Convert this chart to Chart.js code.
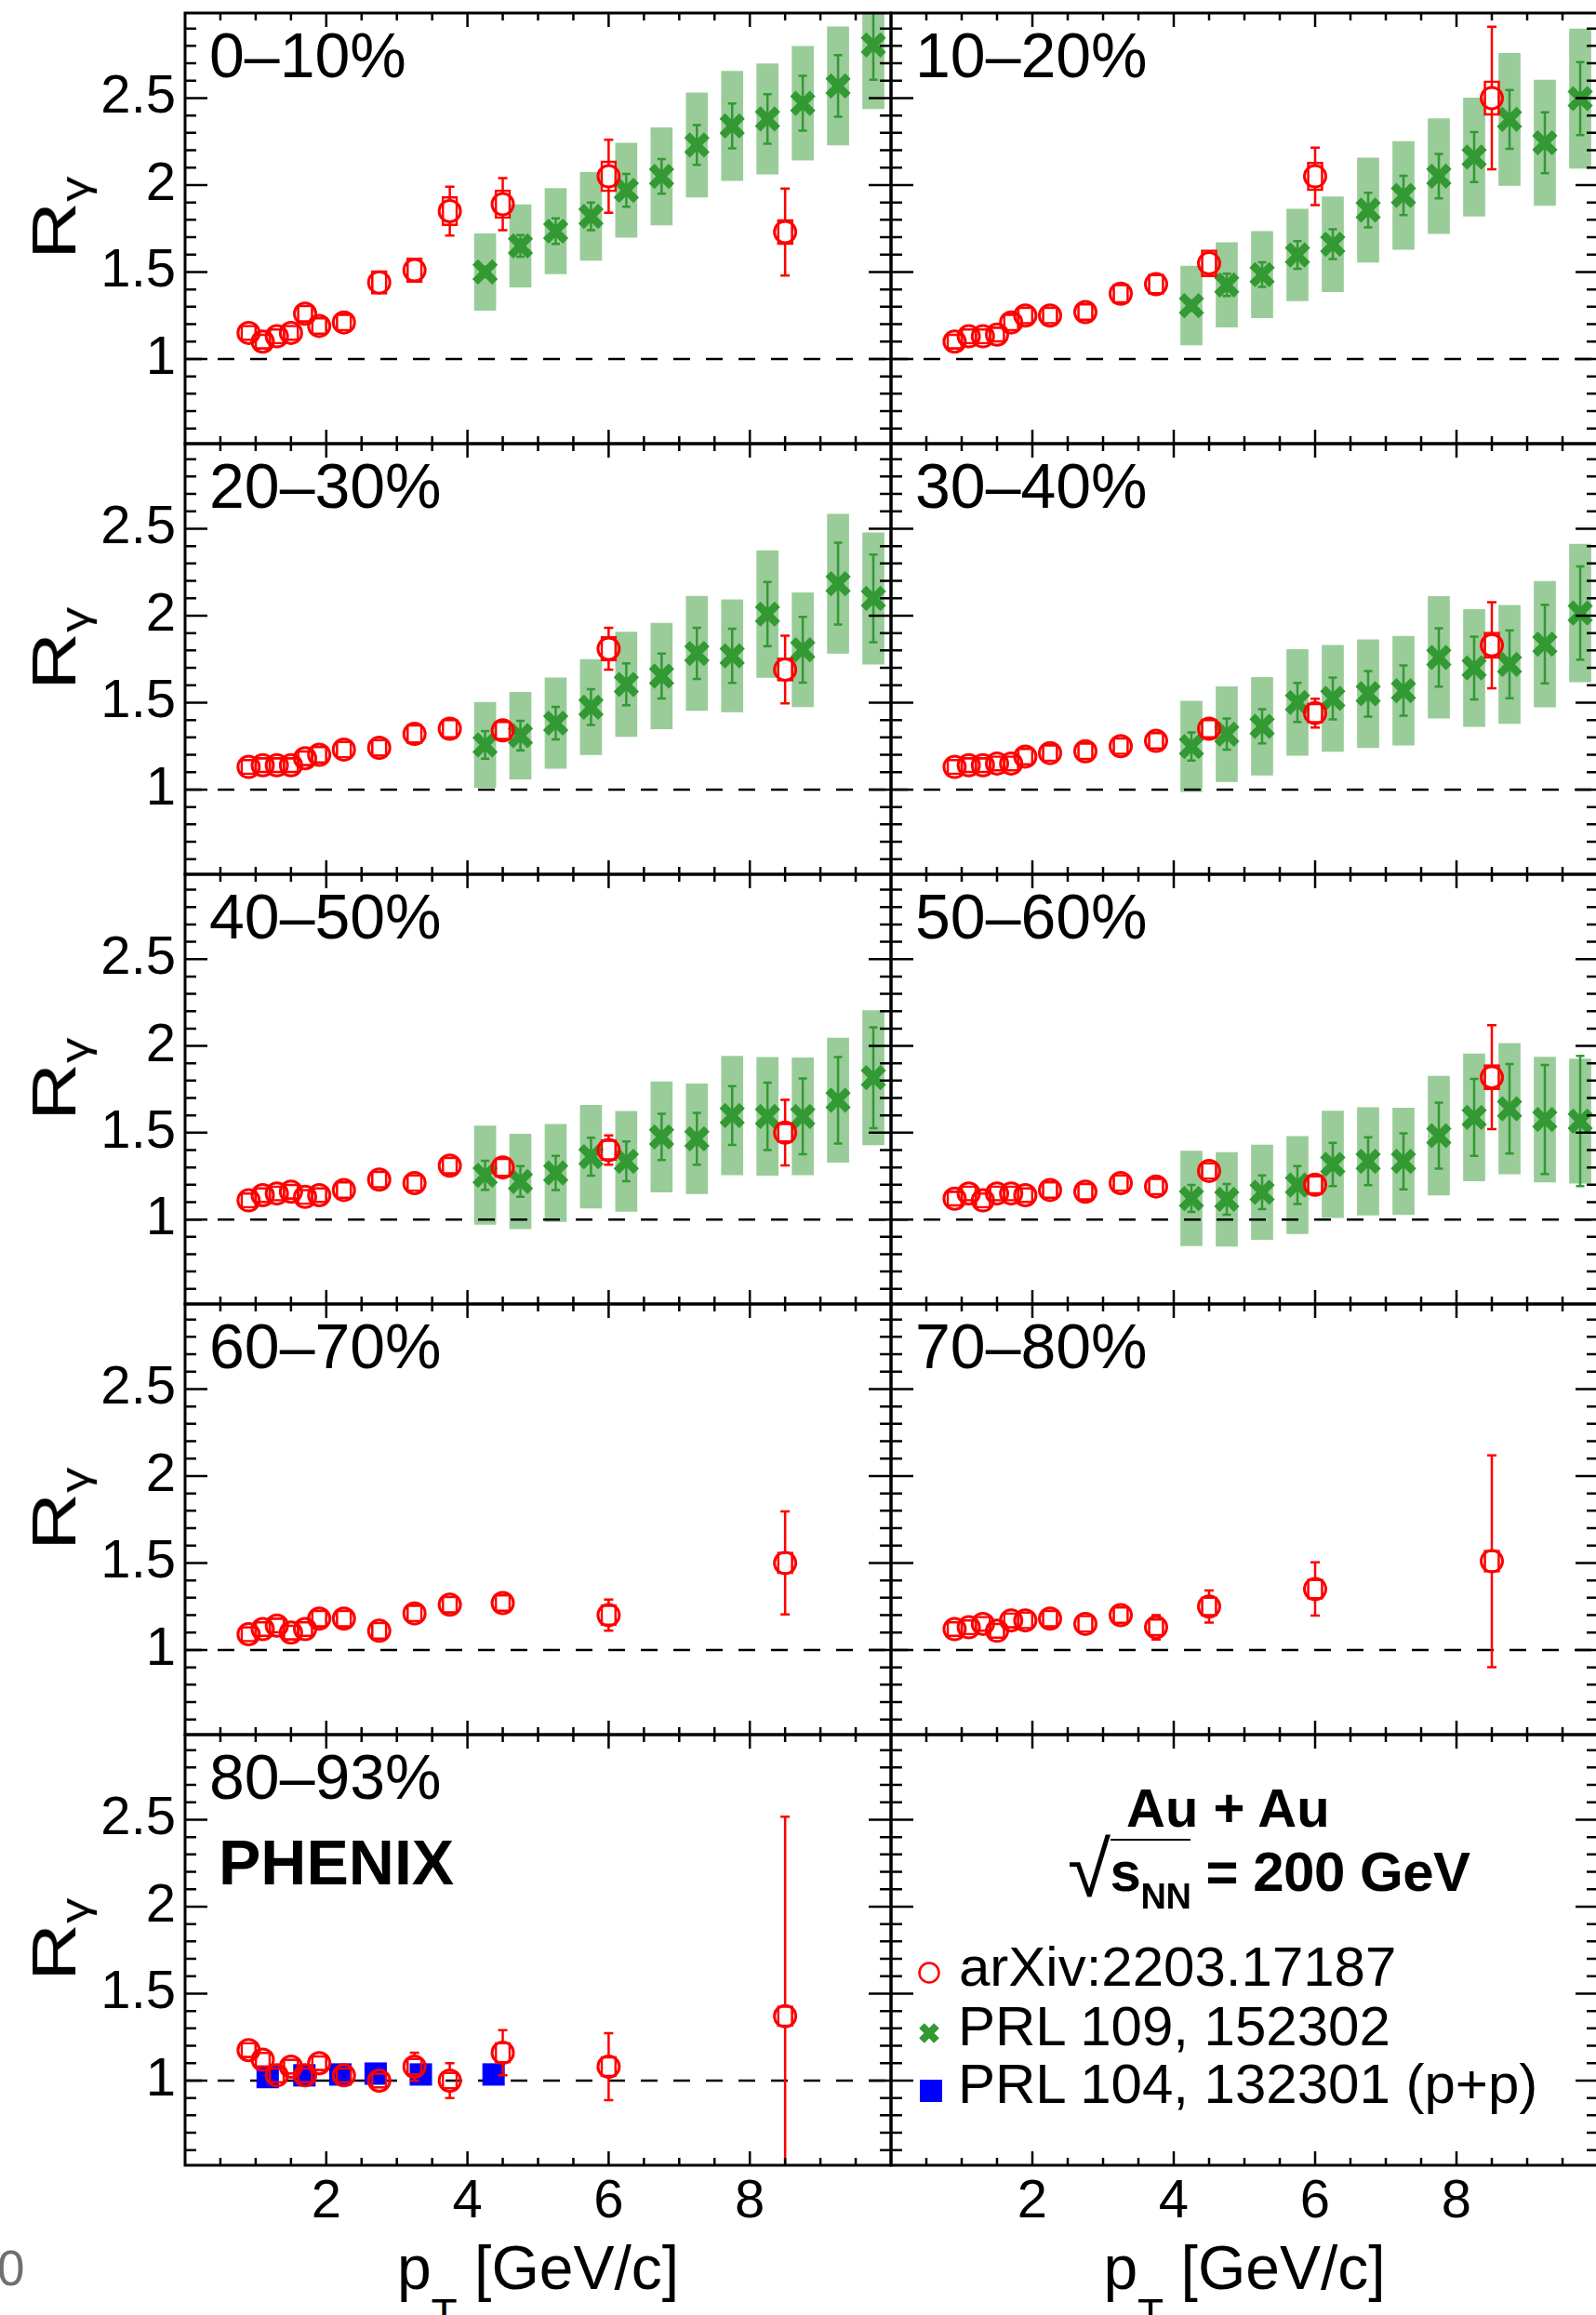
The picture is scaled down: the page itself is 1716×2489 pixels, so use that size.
<!DOCTYPE html>
<html><head><meta charset="utf-8">
<script src="https://cdn.jsdelivr.net/npm/chart.js@4.4.0/dist/chart.umd.min.js"></script>
<style>
html,body{margin:0;padding:0;background:#fff;overflow:hidden;width:1716px;height:2489px;position:relative}
.t{position:absolute;white-space:nowrap;font-family:'Liberation Sans',Arial,Helvetica,sans-serif;color:#000}
</style></head><body>
<script>
// ---------------- data ----------------
const centralities = ["0–10%", "10–20%", "20–30%", "30–40%", "40–50%", "50–60%", "60–70%", "70–80%", "80–93%"];
const ptRed   = [0.9, 1.1, 1.3, 1.5, 1.7, 1.9, 2.25, 2.75, 3.25, 3.75, 4.5, 6.0, 8.5];
const ptGreen = [4.25, 4.75, 5.25, 5.75, 6.25, 6.75, 7.25, 7.75, 8.25, 8.75, 9.25, 9.75];
const ptBlue  = [1.17, 1.69, 2.2, 2.7, 3.34, 4.37];

const yTickValues = [1, 1.5, 2, 2.5];
const yTickLabels = ["1", "1.5", "2", "2.5"];
const xTickValues = [2, 4, 6, 8];
const xTickLabels = ["2", "4", "6", "8"];

// arXiv:2203.17187 (red): value, stat, sys
const red_0_10     = [1.15, 1.10, 1.13, 1.15, 1.26, 1.19, 1.21, 1.44, 1.51, 1.85, 1.89, 2.05, 1.73];
const redStat_0_10 = [0.01, 0.01, 0.01, 0.01, 0.02, 0.02, 0.02, 0.03, 0.04, 0.14, 0.15, 0.21, 0.25];
const redSys_0_10  = [0.045, 0.045, 0.045, 0.045, 0.05, 0.05, 0.05, 0.068, 0.071, 0.085, 0.083, 0.089, 0.073];

const red_10_20     = [1.10, 1.13, 1.13, 1.14, 1.21, 1.25, 1.25, 1.27, 1.375, 1.43, 1.55, 2.05, 2.50];
const redStat_10_20 = [0.01, 0.01, 0.01, 0.01, 0.01, 0.01, 0.01, 0.02, 0.02, 0.03, 0.04, 0.165, 0.41];
const redSys_10_20  = [0.045, 0.045, 0.045, 0.045, 0.05, 0.05, 0.05, 0.05, 0.055, 0.058, 0.078, 0.083, 0.10];

const red_20_30     = [1.13, 1.14, 1.14, 1.14, 1.18, 1.20, 1.23, 1.24, 1.32, 1.35, 1.34, 1.81, 1.69];
const redStat_20_30 = [0.01, 0.01, 0.01, 0.01, 0.01, 0.01, 0.01, 0.01, 0.02, 0.02, 0.03, 0.12, 0.195];
const redSys_20_30  = [0.045, 0.045, 0.045, 0.045, 0.045, 0.05, 0.05, 0.05, 0.055, 0.055, 0.055, 0.071, 0.067];

const red_30_40     = [1.13, 1.14, 1.14, 1.15, 1.15, 1.19, 1.21, 1.22, 1.25, 1.28, 1.35, 1.44, 1.83];
const redStat_30_40 = [0.01, 0.01, 0.01, 0.01, 0.01, 0.01, 0.01, 0.01, 0.02, 0.02, 0.03, 0.083, 0.247];
const redSys_30_40  = [0.045, 0.045, 0.045, 0.045, 0.045, 0.05, 0.05, 0.05, 0.05, 0.05, 0.055, 0.058, 0.076];

const red_40_50     = [1.11, 1.14, 1.15, 1.16, 1.13, 1.14, 1.17, 1.23, 1.21, 1.31, 1.30, 1.40, 1.50];
const redStat_40_50 = [0.01, 0.01, 0.01, 0.01, 0.01, 0.01, 0.01, 0.01, 0.02, 0.02, 0.03, 0.084, 0.189];
const redSys_40_50  = [0.045, 0.045, 0.045, 0.045, 0.045, 0.045, 0.05, 0.05, 0.05, 0.05, 0.055, 0.06, 0.056];

const red_50_60     = [1.12, 1.15, 1.11, 1.15, 1.15, 1.14, 1.17, 1.16, 1.21, 1.19, 1.28, 1.20, 1.82];
const redStat_50_60 = [0.01, 0.01, 0.01, 0.01, 0.01, 0.01, 0.01, 0.01, 0.02, 0.02, 0.03, 0.069, 0.30];
const redSys_50_60  = [0.045, 0.045, 0.045, 0.045, 0.045, 0.045, 0.05, 0.05, 0.05, 0.05, 0.05, 0.055, 0.073];

const red_60_70     = [1.09, 1.12, 1.14, 1.10, 1.12, 1.18, 1.18, 1.11, 1.21, 1.26, 1.27, 1.20, 1.50];
const redStat_60_70 = [0.01, 0.01, 0.01, 0.01, 0.01, 0.01, 0.01, 0.02, 0.02, 0.02, 0.03, 0.09, 0.296];
const redSys_60_70  = [0.045, 0.045, 0.045, 0.045, 0.045, 0.05, 0.05, 0.05, 0.05, 0.05, 0.05, 0.06, 0.063];

const red_70_80     = [1.12, 1.13, 1.15, 1.11, 1.17, 1.17, 1.18, 1.15, 1.20, 1.13, 1.25, 1.35, 1.51];
const redStat_70_80 = [0.01, 0.01, 0.01, 0.01, 0.01, 0.01, 0.01, 0.02, 0.02, 0.07, 0.092, 0.153, 0.609];
const redSys_70_80  = [0.045, 0.045, 0.045, 0.045, 0.045, 0.05, 0.05, 0.05, 0.05, 0.05, 0.056, 0.058, 0.064];

const red_80_93     = [1.175, 1.12, 1.03, 1.08, 1.03, 1.10, 1.03, 1.00, 1.08, 1.00, 1.16, 1.08, 1.37];
const redStat_80_93 = [0.01, 0.02, 0.02, 0.02, 0.02, 0.02, 0.02, 0.03, 0.08, 0.10, 0.13, 0.193, 1.147];
const redSys_80_93  = [0.045, 0.045, 0.045, 0.045, 0.045, 0.045, 0.045, 0.045, 0.05, 0.05, 0.06, 0.059, 0.06];

// PRL 109, 152302 (green): value, stat, sys
const green_0_10     = [1.50, 1.65, 1.735, 1.82, 1.97, 2.05, 2.23, 2.34, 2.38, 2.47, 2.57, 2.805];
const greenStat_0_10 = [0.03, 0.0625, 0.074, 0.08, 0.094, 0.10, 0.114, 0.129, 0.142, 0.158, 0.177, 0.2];
const greenSys_0_10  = [0.22, 0.237, 0.245, 0.253, 0.271, 0.28, 0.30, 0.315, 0.317, 0.327, 0.34, 0.366];

const green_10_20     = [1.307, 1.426, 1.485, 1.598, 1.660, 1.856, 1.940, 2.051, 2.161, 2.377, 2.243, 2.497];
const greenStat_10_20 = [0.03, 0.064, 0.071, 0.079, 0.085, 0.10, 0.113, 0.128, 0.144, 0.169, 0.175, 0.21];
const greenSys_10_20  = [0.227, 0.243, 0.248, 0.264, 0.273, 0.30, 0.31, 0.33, 0.34, 0.38, 0.36, 0.40];

const green_20_30     = [1.257, 1.310, 1.382, 1.474, 1.605, 1.653, 1.783, 1.769, 2.009, 1.804, 2.184, 2.099];
const greenStat_20_30 = [0.079, 0.085, 0.094, 0.103, 0.12, 0.129, 0.147, 0.156, 0.185, 0.189, 0.235, 0.252];
const greenSys_20_30  = [0.245, 0.25, 0.26, 0.274, 0.30, 0.304, 0.328, 0.322, 0.365, 0.328, 0.40, 0.378];

const green_30_40     = [1.248, 1.319, 1.364, 1.501, 1.524, 1.551, 1.569, 1.760, 1.699, 1.720, 1.836, 2.015];
const greenStat_30_40 = [0.081, 0.09, 0.098, 0.112, 0.12, 0.131, 0.144, 0.168, 0.18, 0.195, 0.226, 0.268];
const greenSys_30_40  = [0.26, 0.273, 0.281, 0.305, 0.305, 0.31, 0.313, 0.35, 0.337, 0.34, 0.361, 0.396];

const green_40_50     = [1.255, 1.219, 1.268, 1.362, 1.335, 1.476, 1.465, 1.599, 1.594, 1.594, 1.687, 1.817];
const greenStat_40_50 = [0.084, 0.089, 0.098, 0.109, 0.115, 0.133, 0.149, 0.170, 0.194, 0.218, 0.249, 0.291];
const greenSys_40_50  = [0.284, 0.273, 0.28, 0.296, 0.288, 0.318, 0.316, 0.342, 0.34, 0.337, 0.358, 0.387];

const green_50_60     = [1.121, 1.116, 1.157, 1.198, 1.317, 1.335, 1.335, 1.483, 1.588, 1.638, 1.576, 1.567];
const greenStat_50_60 = [0.078, 0.088, 0.097, 0.109, 0.125, 0.138, 0.161, 0.19, 0.222, 0.258, 0.314, 0.375];
const greenSys_50_60  = [0.273, 0.27, 0.272, 0.28, 0.307, 0.31, 0.307, 0.342, 0.366, 0.376, 0.36, 0.358];

// PRL 104, 132301 (p+p) (blue)
const blue_80_93 = [1.02, 1.03, 1.035, 1.04, 1.035, 1.035];

// ---------------- style ----------------
const FONT = "'Liberation Sans', Arial, Helvetica, sans-serif";
const RED = '#ff0000', GREEN = '#339933', GREEN_BOX = '#99cc99', BLUE = '#0000ff';
const COLX = [[199, 958], [958, 1718]];
const ROW_Y0 = 14, ROW_H = 462.8;
const Y_MIN = 0.513, Y_MAX = 2.989, X_MIN = 0, X_MAX = 10;

const panels = [
  {red: red_0_10, rs: redStat_0_10, ry: redSys_0_10, green: green_0_10, gs: greenStat_0_10, gy: greenSys_0_10},
  {red: red_10_20, rs: redStat_10_20, ry: redSys_10_20, green: green_10_20, gs: greenStat_10_20, gy: greenSys_10_20},
  {red: red_20_30, rs: redStat_20_30, ry: redSys_20_30, green: green_20_30, gs: greenStat_20_30, gy: greenSys_20_30},
  {red: red_30_40, rs: redStat_30_40, ry: redSys_30_40, green: green_30_40, gs: greenStat_30_40, gy: greenSys_30_40},
  {red: red_40_50, rs: redStat_40_50, ry: redSys_40_50, green: green_40_50, gs: greenStat_40_50, gy: greenSys_40_50},
  {red: red_50_60, rs: redStat_50_60, ry: redSys_50_60, green: green_50_60, gs: greenStat_50_60, gy: greenSys_50_60},
  {red: red_60_70, rs: redStat_60_70, ry: redSys_60_70},
  {red: red_70_80, rs: redStat_70_80, ry: redSys_70_80},
  {red: red_80_93, rs: redStat_80_93, ry: redSys_80_93, blue: blue_80_93},
  null // legend panel
];

// ---------------- plugins ----------------
const errorBarPlugin = {
  id: 'errbars',
  beforeDatasetDraw(chart, args) {
    const ds = chart.data.datasets[args.index];
    if (!ds.errors) return;
    const xs = chart.scales.x, ys = chart.scales.y, ctx = chart.ctx, a = chart.chartArea;
    ctx.save();
    ctx.beginPath(); ctx.rect(a.left, a.top, a.right - a.left, a.bottom - a.top); ctx.clip();
    ctx.strokeStyle = ds.errColor; ctx.lineWidth = ds.errWidth; ctx.lineCap = 'butt';
    ds.data.forEach((p, i) => {
      const e = ds.errors[i];
      const px = xs.getPixelForValue(p.x), py = ys.getPixelForValue(p.y);
      const yt = ys.getPixelForValue(p.y + e), yb = ys.getPixelForValue(p.y - e);
      const gap = ds.errGap;
      if (py - yt <= gap + 1) return;
      ctx.beginPath();
      ctx.moveTo(px, yt); ctx.lineTo(px, py - gap);
      ctx.moveTo(px, py + gap); ctx.lineTo(px, yb);
      ctx.moveTo(px - ds.capW / 2, yt); ctx.lineTo(px + ds.capW / 2, yt);
      ctx.moveTo(px - ds.capW / 2, yb); ctx.lineTo(px + ds.capW / 2, yb);
      ctx.stroke();
    });
    ctx.restore();
  }
};

const framePlugin = {
  id: 'frame',
  afterDraw(chart, args, o) {
    const ctx = chart.ctx, a = chart.chartArea, xs = chart.scales.x, ys = chart.scales.y;
    ctx.save();
    ctx.strokeStyle = '#000'; ctx.lineWidth = 2.5;
    ctx.beginPath();
    for (let k = 6; k <= 29; k++) {
      const v = k / 10, len = (k % 5 === 0) ? 24 : 12, py = ys.getPixelForValue(v);
      ctx.moveTo(a.left, py); ctx.lineTo(a.left + len, py);
      ctx.moveTo(a.right, py); ctx.lineTo(a.right - len, py);
    }
    for (let k = 1; k <= 19; k++) {
      const v = k / 2, len = (k % 4 === 0) ? 15 : 8, px = xs.getPixelForValue(v);
      ctx.moveTo(px, a.top); ctx.lineTo(px, a.top + len);
      ctx.moveTo(px, a.bottom); ctx.lineTo(px, a.bottom - len);
    }
    ctx.stroke();
    ctx.lineWidth = 3;
    ctx.strokeRect(a.left, a.top, a.right - a.left, a.bottom - a.top);
    ctx.fillStyle = '#000';
    if (o.yLabels) {
      ctx.font = '58px ' + FONT; ctx.textAlign = 'right'; ctx.textBaseline = 'middle';
      yTickValues.forEach((v, i) => ctx.fillText(yTickLabels[i], a.left - 10, ys.getPixelForValue(v)));
    }
    if (o.xLabels) {
      ctx.font = '58px ' + FONT; ctx.textAlign = 'center'; ctx.textBaseline = 'alphabetic';
      xTickValues.forEach((v, i) => ctx.fillText(xTickLabels[i], xs.getPixelForValue(v), a.bottom + 56));
    }
    if (o.marks) {
      o.marks.forEach(m => {
        const x = m.x - o.offX, y = m.y - o.offY;
        if (m.s === 'circle') {
          ctx.strokeStyle = RED; ctx.lineWidth = 2.5; ctx.beginPath(); ctx.arc(x, y, 10.5, 0, Math.PI * 2); ctx.stroke();
        } else if (m.s === 'x') {
          ctx.strokeStyle = GREEN; ctx.lineWidth = 8; ctx.beginPath();
          ctx.moveTo(x - 8, y - 8); ctx.lineTo(x + 8, y + 8); ctx.moveTo(x + 8, y - 8); ctx.lineTo(x - 8, y + 8); ctx.stroke();
        } else {
          ctx.fillStyle = BLUE; ctx.fillRect(x - 12, y - 12, 24, 24);
        }
      });
    }
    ctx.restore();
  }
};

// ---------------- build panels ----------------
function buildDatasets(p) {
  const ds = [];
  if (!p) return ds;
  if (p.green) {
    ds.push({type: 'bar', data: ptGreen.map((x, i) => ({x, y: [p.green[i] - p.gy[i], p.green[i] + p.gy[i]]})),
      backgroundColor: GREEN_BOX, borderWidth: 0, barThickness: 23, grouped: false, order: 6});
  }
  ds.push({type: 'line', data: [{x: X_MIN, y: 1}, {x: X_MAX, y: 1}], borderColor: '#000', borderWidth: 2.5,
    borderDash: [18, 17], pointRadius: 0, fill: false, order: 5});
  if (p.green) {
    ds.push({type: 'scatter', data: ptGreen.map((x, i) => ({x, y: p.green[i]})), pointStyle: 'crossRot',
      pointRadius: 15, borderWidth: 8.5, borderColor: GREEN, backgroundColor: GREEN,
      errors: p.gs, errColor: GREEN, errWidth: 2.5, errGap: 0, capW: 9, order: 4});
  }
  if (p.blue) {
    ds.push({type: 'scatter', data: ptBlue.map((x, i) => ({x, y: p.blue[i]})), pointStyle: 'rect',
      pointRadius: 17, borderWidth: 0, backgroundColor: BLUE, borderColor: BLUE, order: 3.5});
  }
  ds.push({type: 'bar', data: ptRed.map((x, i) => ({x, y: [p.red[i] - p.ry[i], p.red[i] + p.ry[i]]})),
    backgroundColor: 'rgba(0,0,0,0)', borderColor: RED, borderWidth: 2, borderSkipped: false,
    barThickness: 17, grouped: false, order: 3});
  ds.push({type: 'scatter', data: ptRed.map((x, i) => ({x, y: p.red[i]})), pointStyle: 'circle',
    pointRadius: 11.5, borderWidth: 3, borderColor: RED, backgroundColor: 'rgba(0,0,0,0)',
    errors: p.rs, errColor: RED, errWidth: 2.5, errGap: 12, capW: 10, order: 2});
  return ds;
}

function addText(html, x, baseline, size, extra) {
  const d = document.createElement('div');
  d.className = 't';
  d.style.cssText += `left:${x}px;top:${baseline - 0.8465 * size}px;font-size:${size}px;line-height:${size}px;` + (extra || '');
  d.innerHTML = html;
  document.body.appendChild(d);
  return d;
}

for (let idx = 0; idx < 10; idx++) {
  const r = Math.floor(idx / 2), c = idx % 2;
  const L = COLX[c][0], R = COLX[c][1];
  const T = Math.round(ROW_Y0 + ROW_H * r), B = Math.round(ROW_Y0 + ROW_H * (r + 1));
  const padL = c === 0 ? 125 : 6, padR = 6, padT = 6, padB = r === 4 ? 72 : 6;
  const cw = R - L + padL + padR, ch = B - T + padT + padB;
  const cv = document.createElement('canvas');
  cv.width = cw; cv.height = ch;
  cv.style.cssText = `position:absolute;left:${L - padL}px;top:${T - padT}px;width:${cw}px;height:${ch}px`;
  document.body.appendChild(cv);
  const frameOpts = {yLabels: c === 0, xLabels: r === 4};
  if (idx === 9) {
    frameOpts.marks = [{s: 'circle', x: 999, y: 2121}, {s: 'x', x: 999, y: 2186}, {s: 'sq', x: 1001, y: 2248}];
    frameOpts.offX = L - padL; frameOpts.offY = T - padT;
  }
  new Chart(cv, {
    type: 'scatter',
    data: {datasets: buildDatasets(panels[idx])},
    options: {
      responsive: false, animation: false, events: [],
      layout: {autoPadding: false, padding: {left: padL, right: padR, top: padT, bottom: padB}},
      scales: {
        x: {type: 'linear', min: X_MIN, max: X_MAX, display: false, offset: false, grid: {offset: false}},
        y: {type: 'linear', min: Y_MIN, max: Y_MAX, display: false}
      },
      plugins: {legend: {display: false}, tooltip: {enabled: false}, frame: frameOpts}
    },
    plugins: [errorBarPlugin, framePlugin]
  });
  if (idx < 9) addText(centralities[idx], L + 26, T + 69, 68);
  if (c === 0) {
    addText('R<span style="font-size:42px;vertical-align:-14px">γ</span>', 81, T + 265, 66,
      'transform-origin:0 ' + (0.8465 * 66) + 'px;transform:rotate(-90deg) scaleX(1.3);');
  }
  if (r === 4) {
    addText('p<span style="font-size:46px;vertical-align:-43px">T</span> [GeV/c]', L, 2461, 66,
      'width:' + (R - L) + 'px;text-align:center;');
  }
}

addText('PHENIX', 235, 2026, 68, 'font-weight:bold;');
addText('0', -3, 2457, 53, 'color:#707070;');
addText('Au + Au', 1211, 1964, 58, 'font-weight:bold;');
addText('<span style="font-weight:normal;font-size:84px;line-height:0;position:relative;top:6px">√</span><span style="border-top:2.5px solid #000">s<span style="font-size:38px;vertical-align:-19px">NN</span></span> = 200 GeV',
  1148, 2034, 60, 'font-weight:bold;letter-spacing:-0.5px;');
addText('arXiv:2203.17187', 1031, 2136, 60);
addText('PRL 109, 152302', 1030, 2200, 60);
addText('PRL 104, 132301 (p+p)', 1030, 2262, 60);
</script>
</body></html>
